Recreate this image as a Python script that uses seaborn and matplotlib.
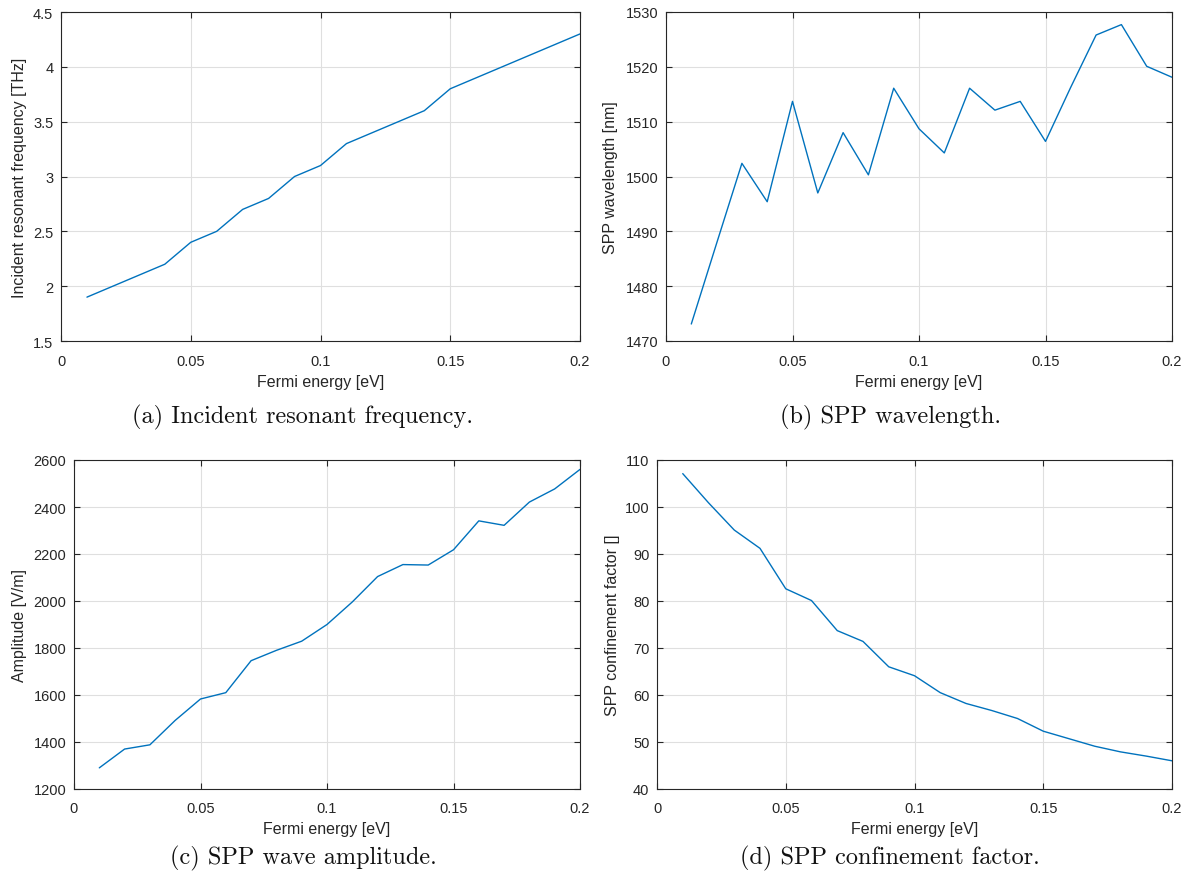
import numpy as np
import pandas as pd
import matplotlib
matplotlib.use("Agg")
import matplotlib.pyplot as plt
import seaborn as sns
from matplotlib.ticker import FuncFormatter

fermi = [0.01, 0.02, 0.03, 0.04, 0.05, 0.06, 0.07, 0.08, 0.09, 0.10,
         0.11, 0.12, 0.13, 0.14, 0.15, 0.16, 0.17, 0.18, 0.19, 0.20]
freq_thz = [1.9, 2.0, 2.1, 2.2, 2.4, 2.5, 2.7, 2.8, 3.0, 3.1,
            3.3, 3.4, 3.5, 3.6, 3.8, 3.9, 4.0, 4.1, 4.2, 4.3]
wavelength_nm = [1473.1, 1487.8, 1502.4, 1495.4, 1513.7, 1497.0, 1508.0, 1500.3, 1516.1, 1508.7,
                 1504.3, 1516.1, 1512.1, 1513.7, 1506.4, 1516.3, 1525.8, 1527.7, 1520.1, 1518.1]
amplitude = [1290, 1370, 1388, 1492, 1583, 1610, 1746, 1790, 1829, 1900,
             1996, 2104, 2155, 2153, 2218, 2341, 2322, 2421, 2477, 2560]
confinement = [107.1, 100.9, 95.1, 91.2, 82.6, 80.1, 73.7, 71.4, 66.0, 64.1,
               60.5, 58.2, 56.7, 55.0, 52.3, 50.7, 49.1, 47.9, 47.0, 46.0]

panels = [
    ("Incident resonant frequency [THz]", freq_thz, (1.5, 4.5), np.arange(1.5, 4.51, 0.5),
     "(a) Incident resonant frequency."),
    ("SPP wavelength [nm]", wavelength_nm, (1470, 1530), np.arange(1470, 1531, 10),
     "(b) SPP wavelength."),
    ("Amplitude [V/m]", amplitude, (1200, 2600), np.arange(1200, 2601, 200),
     "(c) SPP wave amplitude."),
    ("SPP confinement factor []", confinement, (40, 110), np.arange(40, 111, 10),
     "(d) SPP confinement factor."),
]

sns.set_style("white")
plt.rcParams['font.family'] = ['Liberation Sans', 'DejaVu Sans']

W, H = 1186, 879
fig = plt.figure(figsize=(W / 100, H / 100), dpi=100)

# pixel boxes: left, top, right, bottom
boxes = [(61, 13, 580, 342), (666, 13, 1172, 342),
         (74, 461, 580, 790), (657, 461, 1172, 790)]
ylabel_x = [20, 611, 20, 612]
caption_pos = [(303, 417), (890, 417), (303, 858), (890, 858)]

line_color = "#0072BD"
text_color = "#262626"
fmt = FuncFormatter(lambda v, p: ("%g" % round(v, 6)))

for (ylabel, vals, ylim, yticks, cap), (l, t, r, b), ylx, (cx, cy) in zip(
        panels, boxes, ylabel_x, caption_pos):
    aw, ah = r - l, b - t
    ax = fig.add_axes([l / W, 1 - b / H, aw / W, ah / H])
    df = pd.DataFrame({"x": fermi, "y": vals})
    sns.lineplot(data=df, x="x", y="y", ax=ax, color=line_color, linewidth=1.0)
    ax.set_xlim(0, 0.2)
    ax.set_ylim(*ylim)
    ax.set_xticks([0, 0.05, 0.1, 0.15, 0.2])
    ax.set_yticks(yticks)
    ax.xaxis.set_major_formatter(fmt)
    ax.yaxis.set_major_formatter(fmt)
    ax.grid(True, color="#dfdfdf", linewidth=0.8)
    ax.set_axisbelow(True)
    for s in ax.spines.values():
        s.set_visible(True)
        s.set_color(text_color)
        s.set_linewidth(0.8)
    ax.tick_params(direction="in", length=4, width=0.8, top=True, right=True,
                   bottom=True, left=True, labelsize=10.5, colors=text_color,
                   labelcolor=text_color)
    ax.tick_params(axis="x", pad=9)
    ax.tick_params(axis="y", pad=5.5)
    ax.set_xlabel("Fermi energy [eV]", fontsize=11.5, color=text_color)
    ax.set_ylabel(ylabel, fontsize=11.5, color=text_color)
    ax.xaxis.label.set_va("center")
    ax.yaxis.label.set_va("center")
    ax.xaxis.set_label_coords(0.5, -40 / ah)
    ax.yaxis.set_label_coords((ylx - l) / aw, 0.5)
    fig.text(cx / W, 1 - cy / H, cap, ha="center", va="center", fontsize=17.5,
             family=["cmr10", "DejaVu Serif"], color="#111111")

fig.savefig("out.png", dpi=100)
